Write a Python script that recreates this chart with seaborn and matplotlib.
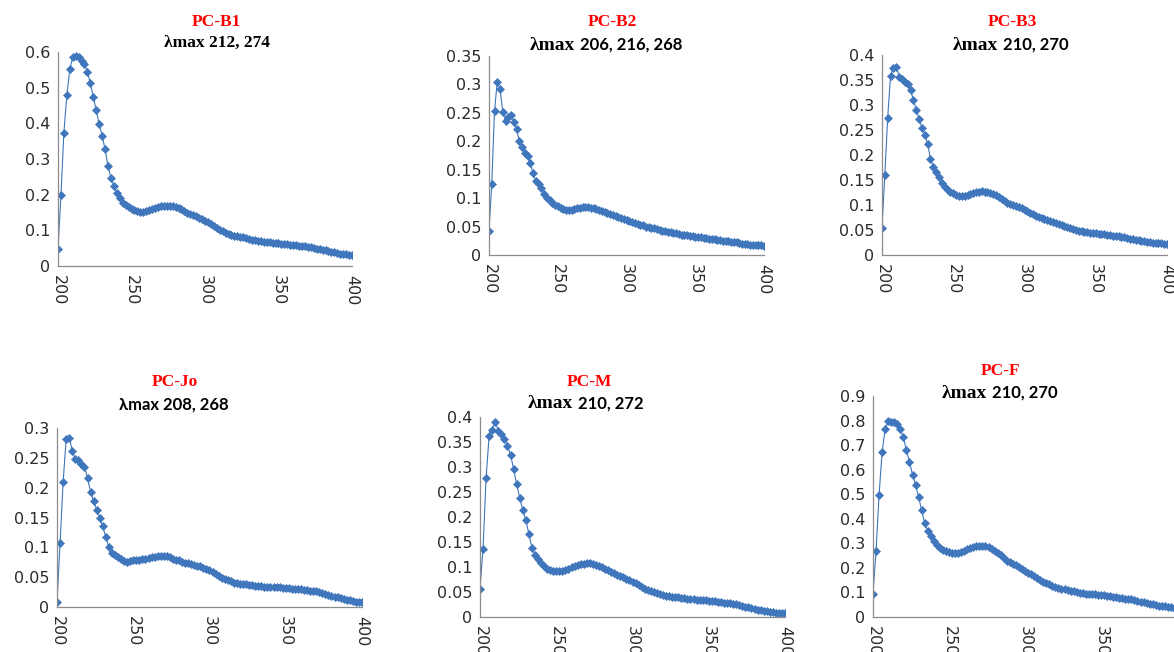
import numpy as np
import pandas as pd
import matplotlib
matplotlib.use("Agg")
import matplotlib.pyplot as plt
import seaborn as sns
from matplotlib.ticker import FuncFormatter

wavelength = list(range(200, 401, 2))

pc_b1 = [0.049, 0.198, 0.374, 0.479, 0.551, 0.585, 0.588, 0.586, 0.575, 0.566,
         0.545, 0.512, 0.475, 0.436, 0.398, 0.365, 0.328, 0.280, 0.247, 0.224,
         0.205, 0.190, 0.178, 0.171, 0.166, 0.161, 0.157, 0.153, 0.151, 0.151,
         0.153, 0.156, 0.159, 0.162, 0.165, 0.167, 0.168, 0.169, 0.168, 0.168,
         0.166, 0.163, 0.159, 0.155, 0.150, 0.146, 0.142, 0.139, 0.135, 0.131,
         0.127, 0.122, 0.118, 0.113, 0.107, 0.101, 0.097, 0.093, 0.090, 0.087,
         0.085, 0.083, 0.081, 0.080, 0.078, 0.076, 0.074, 0.072, 0.070, 0.069,
         0.068, 0.067, 0.066, 0.065, 0.064, 0.064, 0.063, 0.062, 0.061, 0.060,
         0.059, 0.058, 0.057, 0.056, 0.055, 0.053, 0.052, 0.050, 0.048, 0.047,
         0.045, 0.044, 0.042, 0.040, 0.038, 0.037, 0.035, 0.034, 0.033, 0.031,
         0.030]

pc_b2 = [0.042, 0.125, 0.253, 0.305, 0.292, 0.252, 0.236, 0.242, 0.246, 0.234,
         0.221, 0.201, 0.190, 0.180, 0.174, 0.161, 0.144, 0.130, 0.125, 0.118,
         0.108, 0.101, 0.096, 0.091, 0.088, 0.086, 0.083, 0.081, 0.080, 0.080,
         0.080, 0.081, 0.082, 0.083, 0.084, 0.084, 0.084, 0.083, 0.082, 0.081,
         0.080, 0.078, 0.076, 0.074, 0.072, 0.070, 0.069, 0.067, 0.065, 0.063,
         0.062, 0.060, 0.058, 0.056, 0.055, 0.053, 0.052, 0.050, 0.049, 0.048,
         0.047, 0.045, 0.044, 0.043, 0.042, 0.041, 0.040, 0.039, 0.038, 0.037,
         0.036, 0.035, 0.035, 0.034, 0.033, 0.032, 0.032, 0.031, 0.030, 0.030,
         0.029, 0.028, 0.028, 0.027, 0.026, 0.025, 0.025, 0.024, 0.023, 0.023,
         0.022, 0.021, 0.020, 0.019, 0.019, 0.018, 0.018, 0.017, 0.017, 0.017,
         0.016]

pc_b3 = [0.055, 0.161, 0.275, 0.359, 0.375, 0.377, 0.357, 0.353, 0.347, 0.342,
         0.330, 0.311, 0.290, 0.272, 0.255, 0.240, 0.222, 0.193, 0.177, 0.167,
         0.157, 0.145, 0.137, 0.131, 0.127, 0.124, 0.121, 0.119, 0.118, 0.119,
         0.120, 0.122, 0.124, 0.126, 0.127, 0.128, 0.127, 0.127, 0.125, 0.123,
         0.120, 0.116, 0.112, 0.108, 0.105, 0.102, 0.100, 0.098, 0.096, 0.094,
         0.091, 0.088, 0.085, 0.082, 0.079, 0.076, 0.074, 0.072, 0.070, 0.068,
         0.066, 0.064, 0.063, 0.061, 0.059, 0.056, 0.054, 0.052, 0.050, 0.049,
         0.048, 0.047, 0.046, 0.045, 0.044, 0.044, 0.043, 0.043, 0.042, 0.041,
         0.040, 0.039, 0.038, 0.038, 0.037, 0.036, 0.034, 0.033, 0.032, 0.031,
         0.030, 0.029, 0.028, 0.027, 0.026, 0.025, 0.025, 0.024, 0.024, 0.023,
         0.023]

pc_jo = [0.008, 0.107, 0.209, 0.281, 0.284, 0.262, 0.248, 0.246, 0.240, 0.235,
         0.216, 0.193, 0.178, 0.163, 0.150, 0.135, 0.117, 0.100, 0.091, 0.087,
         0.084, 0.080, 0.077, 0.076, 0.077, 0.078, 0.078, 0.079, 0.080, 0.081,
         0.082, 0.083, 0.084, 0.085, 0.086, 0.086, 0.085, 0.083, 0.081, 0.079,
         0.078, 0.076, 0.074, 0.073, 0.072, 0.071, 0.069, 0.068, 0.066, 0.064,
         0.062, 0.059, 0.056, 0.052, 0.049, 0.047, 0.045, 0.043, 0.041, 0.040,
         0.039, 0.038, 0.038, 0.037, 0.037, 0.036, 0.035, 0.035, 0.034, 0.034,
         0.034, 0.033, 0.033, 0.033, 0.032, 0.032, 0.032, 0.031, 0.031, 0.030,
         0.030, 0.029, 0.028, 0.027, 0.027, 0.026, 0.025, 0.023, 0.022, 0.020,
         0.019, 0.017, 0.016, 0.015, 0.013, 0.012, 0.011, 0.010, 0.009, 0.008,
         0.008]

pc_m = [0.057, 0.137, 0.279, 0.363, 0.375, 0.390, 0.373, 0.366, 0.357, 0.343,
        0.325, 0.296, 0.266, 0.239, 0.215, 0.194, 0.167, 0.139, 0.125, 0.116,
        0.108, 0.102, 0.097, 0.094, 0.093, 0.093, 0.093, 0.093, 0.094, 0.097,
        0.100, 0.102, 0.104, 0.106, 0.107, 0.108, 0.108, 0.107, 0.105, 0.103,
        0.100, 0.097, 0.094, 0.091, 0.088, 0.085, 0.082, 0.080, 0.077, 0.074,
        0.071, 0.068, 0.064, 0.061, 0.057, 0.054, 0.052, 0.050, 0.048, 0.046,
        0.044, 0.043, 0.042, 0.041, 0.040, 0.040, 0.039, 0.038, 0.037, 0.036,
        0.036, 0.035, 0.035, 0.034, 0.034, 0.033, 0.032, 0.032, 0.031, 0.030,
        0.029, 0.028, 0.028, 0.027, 0.026, 0.025, 0.023, 0.021, 0.020, 0.018,
        0.017, 0.015, 0.014, 0.013, 0.012, 0.011, 0.010, 0.009, 0.009, 0.008,
        0.008]

pc_f = [0.095, 0.269, 0.498, 0.673, 0.765, 0.799, 0.795, 0.793, 0.787, 0.764,
        0.731, 0.680, 0.631, 0.580, 0.537, 0.489, 0.435, 0.381, 0.351, 0.330,
        0.310, 0.292, 0.280, 0.272, 0.267, 0.264, 0.262, 0.261, 0.262, 0.265,
        0.270, 0.276, 0.282, 0.287, 0.290, 0.291, 0.290, 0.288, 0.284, 0.278,
        0.270, 0.261, 0.251, 0.240, 0.230, 0.222, 0.216, 0.210, 0.203, 0.196,
        0.188, 0.181, 0.174, 0.166, 0.158, 0.150, 0.143, 0.138, 0.133, 0.128,
        0.124, 0.120, 0.116, 0.113, 0.110, 0.107, 0.104, 0.101, 0.099, 0.097,
        0.095, 0.094, 0.093, 0.092, 0.091, 0.090, 0.088, 0.086, 0.084, 0.082,
        0.080, 0.078, 0.076, 0.075, 0.074, 0.072, 0.069, 0.066, 0.063, 0.060,
        0.057, 0.054, 0.051, 0.048, 0.046, 0.045, 0.044, 0.042, 0.040, 0.038,
        0.036]

names = ["PC-B1", "PC-B2", "PC-B3", "PC-Jo", "PC-M", "PC-F"]
lam_left = ["\u03bbmax", "\u03bbmax", "\u03bbmax", "\u03bbmax", "\u03bbmax", "\u03bbmax"]
lam_nums = ["212, 274", "206, 216, 268", "210, 270", "208, 268", "210, 272", "210, 270"]
y_max = [0.6, 0.35, 0.4, 0.3, 0.4, 0.9]
y_step = [0.1, 0.05, 0.05, 0.05, 0.05, 0.1]
x_ticks = [200, 250, 300, 350, 400]

series = [pc_b1, pc_b2, pc_b3, pc_jo, pc_m, pc_f]

W, H = 1174, 652
sns.set_style("white")
plt.rcParams["font.family"] = ["DejaVu Sans"]

fig = plt.figure(figsize=(W / 100, H / 100), dpi=100)
fig.patch.set_facecolor("white")

# axes boxes in pixels: left, top, right, bottom
boxes = [(58, 52, 352, 266), (489, 56, 764, 255), (882, 55, 1167, 255),
         (57, 428, 362, 607), (480, 417, 785, 617), (873, 396, 1177, 617)]
title_pos = [(216, 22), (612, 22), (1012, 22), (175, 382), (589, 382), (1001, 371)]
sub_pos = [(217, 43), (606, 45), (1011, 45), (174, 405), (587, 404), (1000, 393)]
sub_mode = ["serif", "mixed", "mixed", "sans", "mixed", "mixed"]
nums_width = [0, 103, 67, 0, 69, 66]

line_color = "#3F76BC"
axis_color = "#8C8C8C"
label_color = "#2B2B2B"

for i, vals in enumerate(series):
    l, t, r, b = boxes[i]
    ax = fig.add_axes([l / W, 1 - b / H, (r - l) / W, (b - t) / H])
    df = pd.DataFrame({"wavelength": wavelength, "absorbance": vals})
    sns.lineplot(data=df, x="wavelength", y="absorbance", ax=ax, color=line_color,
                 linewidth=0.8, marker="D", markersize=3.8, markeredgewidth=0.5,
                 markeredgecolor=line_color, estimator=None)
    ax.set_xlim(200, 400)
    ax.set_ylim(0, y_max[i])
    nt = int(round(y_max[i] / y_step[i]))
    ax.set_yticks([round(k * y_step[i], 2) for k in range(nt + 1)])
    ax.set_xticks(x_ticks)
    ax.yaxis.set_major_formatter(FuncFormatter(lambda v, p: "0" if abs(v) < 1e-9 else f"{v:g}"))
    ax.set_xlabel("")
    ax.set_ylabel("")
    for s in ["top", "right"]:
        ax.spines[s].set_visible(False)
    for s in ["left", "bottom"]:
        ax.spines[s].set_color(axis_color)
        ax.spines[s].set_linewidth(0.9)
    ax.tick_params(axis="both", direction="out", length=3.5, width=0.8, color=axis_color,
                   labelsize=11.5, labelcolor=label_color, pad=2)
    ax.tick_params(axis="x", labelrotation=-90, pad=3)
    ax.set_facecolor("none")
    ax.grid(False)

    tx, ty = title_pos[i]
    fig.text(tx / W, 1 - ty / H, names[i], color="#FF0000", fontsize=12.5,
             fontweight="bold", family=["Liberation Serif"], ha="center", va="center")
    sx, sy = sub_pos[i]
    if sub_mode[i] == "serif":
        fig.text(sx / W, 1 - sy / H, lam_left[i] + " " + lam_nums[i], color="black",
                 fontsize=12.5, fontweight="bold", family=["Liberation Serif"],
                 ha="center", va="center")
    elif sub_mode[i] == "sans":
        fig.text(sx / W, 1 - sy / H, lam_left[i] + " " + lam_nums[i], color="black",
                 fontsize=12, fontweight="bold", family=["Lato", "DejaVu Sans"],
                 ha="center", va="center")
    else:
        left_w = 46
        start = sx - (left_w + 5 + nums_width[i]) / 2
        split = start + left_w
        fig.text(split / W, 1 - sy / H, lam_left[i], color="black", fontsize=14,
                 fontweight="bold", family=["Liberation Serif"], ha="right", va="center")
        fig.text((split + 5) / W, 1 - sy / H, lam_nums[i], color="black", fontsize=12,
                 fontweight="bold", family=["Lato", "DejaVu Sans"], ha="left", va="center")

fig.savefig("out.png", dpi=100, facecolor="white")
